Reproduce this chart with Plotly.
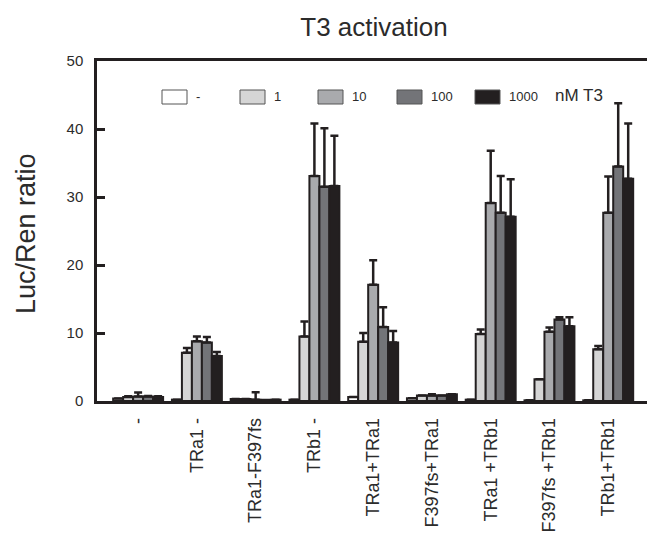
import plotly.graph_objects as go

categories = ["-", "TRa1 -", "TRa1-F397fs", "TRb1 -", "TRa1+TRa1",
              "F397fs+TRa1", "TRa1 +TRb1", "F397fs +TRb1", "TRb1+TRb1"]
series_names = ["-", "1", "10", "100", "1000"]

vals_0 = [0.35, 0.2, 0.3, 0.2, 0.6, 0.4, 0.2, 0.1, 0.1]
vals_1 = [0.6, 7.1, 0.3, 9.5, 8.7, 0.8, 9.85, 3.2, 7.6]
vals_10 = [0.65, 8.8, 0.2, 33.1, 17.1, 0.8, 29.1, 10.2, 27.7]
vals_100 = [0.65, 8.6, 0.15, 31.5, 10.9, 0.8, 27.7, 12.0, 34.5]
vals_1000 = [0.6, 6.6, 0.2, 31.6, 8.6, 1.0, 27.1, 11.0, 32.7]

err_0 = [0, 0, 0, 0, 0, 0, 0, 0, 0]
err_1 = [0.1, 0.7, 0, 2.2, 1.3, 0, 0.65, 0, 0.5]
err_10 = [0.6, 0.7, 1.1, 7.7, 3.6, 0.2, 7.7, 0.6, 5.3]
err_100 = [0.1, 0.8, 0, 8.6, 2.9, 0, 5.4, 0.3, 9.3]
err_1000 = [0.1, 0.6, 0, 7.4, 1.7, 0, 5.5, 1.3, 8.1]

y_ticks = [0, 10, 20, 30, 40, 50]

colors = ["#ffffff", "#d5d5d5", "#a9aaad", "#737478", "#231f20"]
edge = "#231f20"
text_color = "#2b2b2b"

series_vals = [vals_0, vals_1, vals_10, vals_100, vals_1000]
series_errs = [err_0, err_1, err_10, err_100, err_1000]

x_idx = list(range(len(categories)))

fig = go.Figure()
for name, v, e, c in zip(series_names, series_vals, series_errs, colors):
    fig.add_trace(go.Bar(
        x=x_idx, y=v, name=name,
        marker=dict(color=c, line=dict(color=edge, width=2)),
        error_y=dict(type="data", array=e, arrayminus=[0] * len(e), symmetric=False,
                     color=edge, thickness=2.5, width=4),
        showlegend=False,
    ))

# legend drawn manually
W, H = 647, 536
L, R, T, B = 97, 0, 61, 135
pw = W - L - R
ph = H - T - B
box_left_px = [162, 240, 318, 397, 475]
box_w, box_top, box_bot = 25, 90, 104

def px_x(x):
    return (x - L) / pw

def px_y(y):
    return (H - B - y) / ph

shapes = []
annotations = []
for name, c, bx in zip(series_names, colors, box_left_px):
    shapes.append(dict(type="rect", xref="paper", yref="paper",
                       x0=px_x(bx), x1=px_x(bx + box_w),
                       y0=px_y(box_bot), y1=px_y(box_top),
                       fillcolor=c, line=dict(color="#555555", width=1)))
    annotations.append(dict(xref="paper", yref="paper", x=px_x(bx + box_w + 7),
                            y=px_y((box_top + box_bot) / 2), text=name, showarrow=False,
                            xanchor="left", yanchor="middle",
                            font=dict(size=13, color=text_color)))
annotations.append(dict(xref="paper", yref="paper", x=px_x(553),
                        y=px_y((box_top + box_bot) / 2 - 1), text="nM T3", showarrow=False,
                        xanchor="left", yanchor="middle",
                        font=dict(size=17, color=text_color)))
annotations.append(dict(xref="paper", yref="paper", x=px_x(26),
                        y=px_y(234), text="Luc/Ren ratio", showarrow=False,
                        textangle=-90, xanchor="center", yanchor="middle",
                        font=dict(size=27, color=text_color)))

fig.update_layout(
    width=W, height=H,
    margin=dict(l=L, r=R, t=T, b=B, pad=0),
    paper_bgcolor="white", plot_bgcolor="white",
    barmode="group", bargap=0.15, bargroupgap=0,
    font=dict(family="Liberation Sans, Arial, sans-serif", color=text_color),
    title=dict(text="T3 activation", x=374 / W, xanchor="center",
               y=1 - 27 / H, yanchor="middle", font=dict(size=26, color=text_color)),
    shapes=shapes, annotations=annotations,
    xaxis=dict(range=[-0.70, 8.66], tickmode="array", tickvals=x_idx, ticktext=categories,
               tickangle=-90, showline=True, linecolor=edge, linewidth=2.5, mirror=True,
               ticks="", showgrid=False, zeroline=False, automargin=False,
               tickfont=dict(size=18, color=text_color), ticklabelstandoff=7),
    yaxis=dict(range=[0, 50], tickvals=y_ticks, showline=True, linecolor=edge, linewidth=2.5,
               ticks="inside", ticklen=8, tickwidth=2.5, tickcolor=edge,
               showgrid=False, zeroline=False, automargin=False,
               tickfont=dict(size=15, color=text_color), ticklabelstandoff=8),
)

fig.write_html("out.html")
